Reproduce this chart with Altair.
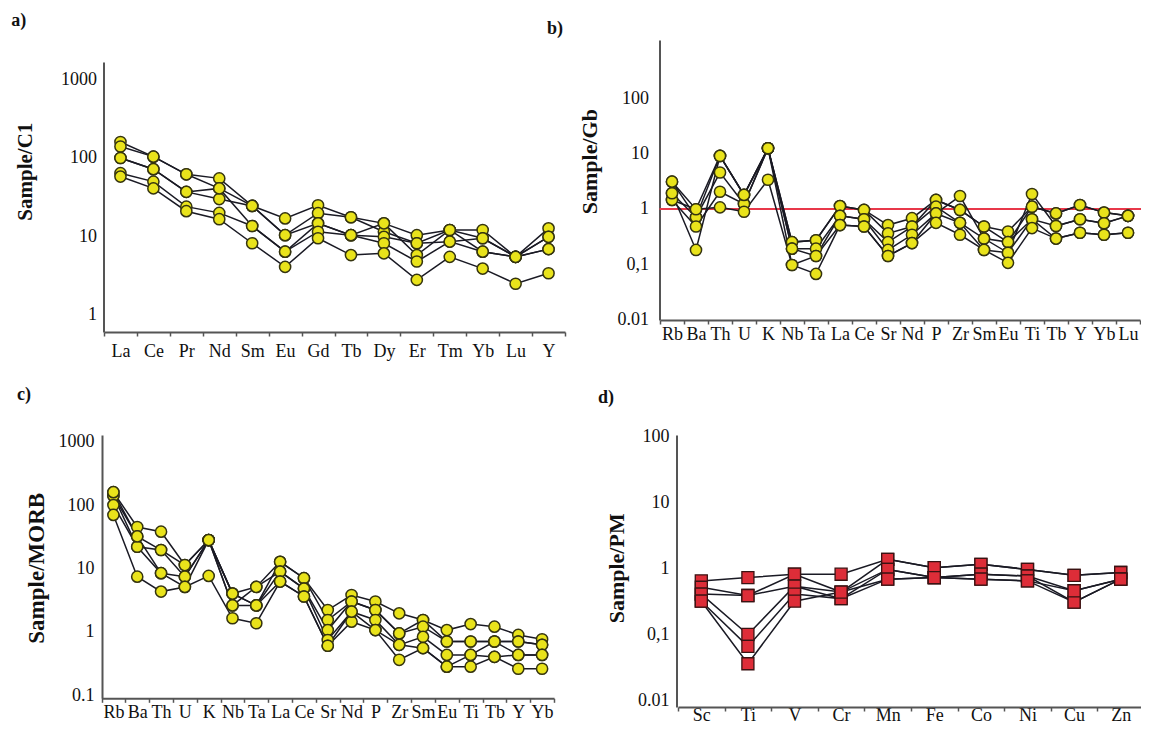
import altair as alt
import pandas as pd

# ---------------- data ----------------
ree = ["La", "Ce", "Pr", "Nd", "Sm", "Eu", "Gd", "Tb", "Dy", "Er", "Tm", "Yb", "Lu", "Y"]
a_s1 = [160, 104, 62, 55, 24.5, 17, 25, 17.6, 14.7, 10.4, 12.1, 12.1, 5.5, 12.7]
a_s2 = [140, 104, 62, 41, 24.5, 10.4, 19.8, 17.6, 11.5, 8.2, 12.1, 9.5, 5.5, 9.9]
a_s3 = [100, 72, 37, 30, 24.5, 10.4, 14.7, 10.4, 9.9, 8.2, 8.6, 9.5, 5.5, 9.9]
a_s4 = [100, 72, 37, 41, 13.6, 6.4, 14.7, 10.4, 14.7, 5.8, 12.1, 6.4, 5.5, 6.9]
a_s5 = [64, 50, 24, 20, 13.6, 6.4, 11.5, 10.4, 8.2, 4.8, 8.6, 6.4, 5.5, 6.9]
a_s6 = [58, 41, 21, 16.6, 8.2, 4.1, 9.5, 5.8, 6.1, 2.8, 5.5, 3.9, 2.5, 3.4]

gb_el = ["Rb", "Ba", "Th", "U", "K", "Nb", "Ta", "La", "Ce", "Sr", "Nd", "P", "Zr", "Sm", "Eu", "Ti", "Tb", "Y", "Yb", "Lu"]
b_s1 = [3.14, 0.99, 9.2, 1.8, 12.7, 0.25, 0.27, 1.13, 0.96, 0.51, 0.68, 1.46, 0.96, 0.48, 0.39, 1.1, 0.83, 1.18, 0.86, 0.75]
b_s2 = [3.14, 0.71, 9.2, 1.8, 12.7, 0.25, 0.27, 1.13, 0.96, 0.36, 0.48, 1.46, 0.96, 0.48, 0.25, 1.1, 0.83, 1.18, 0.86, 0.75]
b_s3 = [1.93, 0.71, 4.6, 1.23, 12.7, 0.19, 0.19, 0.75, 0.65, 0.25, 0.48, 1.1, 0.56, 0.29, 0.25, 0.65, 0.49, 0.65, 0.55, 0.75]
b_s4 = [1.46, 0.48, 2.06, 1.23, 12.7, 0.19, 0.14, 0.75, 0.65, 0.18, 0.34, 0.83, 1.72, 0.29, 0.16, 1.87, 0.49, 0.65, 0.55, 0.75]
b_s5 = [1.46, 0.99, 1.07, 0.89, 3.4, 0.096, 0.14, 0.51, 0.48, 0.14, 0.24, 0.83, 0.56, 0.18, 0.16, 0.65, 0.29, 0.37, 0.34, 0.37]
b_s6 = [1.93, 0.18, 9.2, 1.8, 12.7, 0.096, 0.066, 0.51, 0.48, 0.14, 0.24, 0.56, 0.34, 0.18, 0.105, 0.45, 0.29, 0.37, 0.34, 0.37]

morb_el = ["Rb", "Ba", "Th", "U", "K", "Nb", "Ta", "La", "Ce", "Sr", "Nd", "P", "Zr", "Sm", "Eu", "Ti", "Tb", "Y", "Yb"]
c_s1 = [160, 45, 38, 11.3, 28, 4.0, 5.1, 12.7, 7, 2.2, 3.8, 3.0, 1.95, 1.53, 1.06, 1.32, 1.2, 0.89, 0.76]
c_s2 = [140, 32, 19.5, 7.4, 28, 4.0, 2.6, 12.7, 7, 1.53, 3.0, 2.2, 0.94, 1.53, 0.7, 0.7, 0.7, 0.7, 0.62]
c_s3 = [140, 22, 19.5, 11.3, 28, 2.6, 2.6, 8.9, 4.8, 1.06, 3.0, 2.2, 0.94, 1.2, 0.7, 0.7, 0.7, 0.7, 0.62]
c_s4 = [100, 22, 8.4, 7.4, 28, 2.6, 5.1, 8.9, 4.8, 0.74, 2.07, 1.53, 0.62, 0.83, 0.43, 0.43, 0.4, 0.43, 0.43]
c_s5 = [70, 7.4, 4.3, 5.1, 7.6, 1.63, 1.36, 6.2, 3.6, 0.6, 1.44, 1.06, 0.36, 0.55, 0.28, 0.28, 0.4, 0.26, 0.26]
c_s6 = [160, 32, 8.4, 5.1, 28, 4.0, 2.6, 6.2, 3.6, 0.6, 2.07, 1.06, 0.62, 0.55, 0.28, 0.43, 0.7, 0.43, 0.43]

pm_el = ["Sc", "Ti", "V", "Cr", "Mn", "Fe", "Co", "Ni", "Cu", "Zn"]
d_s1 = [0.65, 0.73, 0.82, 0.82, 1.38, 1.03, 1.16, 0.97, 0.79, 0.87]
d_s2 = [0.52, 0.39, 0.82, 0.44, 1.38, 1.03, 1.16, 0.97, 0.79, 0.87]
d_s3 = [0.41, 0.39, 0.54, 0.44, 0.97, 0.73, 0.82, 0.77, 0.46, 0.69]
d_s4 = [0.41, 0.10, 0.54, 0.35, 0.97, 0.73, 0.82, 0.77, 0.31, 0.69]
d_s5 = [0.32, 0.066, 0.41, 0.35, 0.69, 0.73, 0.69, 0.65, 0.31, 0.69]
d_s6 = [0.32, 0.036, 0.32, 0.44, 0.69, 0.73, 0.69, 0.65, 0.46, 0.69]

gb_reference = [1.0]

FONT = "Liberation Serif"
W, H = 1133, 721


def long_df(cats, series):
    rows = []
    for name, vals in series.items():
        for i, (c, v) in enumerate(zip(cats, vals)):
            rows.append({"element": c, "sample": name, "value": v, "idx": i})
    return pd.DataFrame(rows)


def panel(df, cats, xr, ydom, yr, yoff, xoff, ylabpad, xlabpad, yvals,
          comma=False, square=False, ref=None):
    xs = alt.Scale(type="band", domain=cats, range=xr, paddingInner=0, paddingOuter=0)
    ys = alt.Scale(type="log", domain=ydom, range=yr, nice=False)
    xaxis = alt.Axis(orient="bottom", offset=xoff, title=None, tickBand="extent",
                     tickSize=4, tickWidth=1.5, tickColor="#555", labelPadding=xlabpad,
                     labelAngle=0, labelFont=FONT, labelFontSize=18, labelColor="#111",
                     labelOverlap=False, domainColor="#555", domainWidth=2, grid=False)
    yaxis = alt.Axis(orient="left", offset=yoff, title=None, values=yvals, format="~g",
                     labelExpr=("datum.value == 0.1 ? '0,1' : datum.label") if comma else "datum.label",
                     ticks=False, tickSize=0, labelPadding=ylabpad, labelFont=FONT,
                     labelFontSize=18, labelColor="#111", labelOverlap=False, labelFlush=False,
                     domainColor="#555", domainWidth=2, grid=False)
    enc = dict(x=alt.X("element:N", scale=xs, axis=xaxis),
               y=alt.Y("value:Q", scale=ys, axis=yaxis))
    layers = []
    if ref is not None:
        rule = alt.Chart(pd.DataFrame({"value": ref})).mark_rule(
            color="#e8384a", strokeWidth=2).encode(
            y=alt.Y("value:Q", scale=ys, axis=yaxis),
            x=alt.value(ref_x[0]), x2=alt.value(ref_x[1]))
        layers.append(rule)
    line = alt.Chart(df).mark_line(color="#1a1a24", strokeWidth=1.5).encode(
        detail="sample:N", order="idx:Q", **enc)
    layers.append(line)
    if square:
        pts = alt.Chart(df).mark_square(size=145, fill="#dd2d38", stroke="#3a1212",
                                        strokeWidth=1.3, opacity=1).encode(**enc)
    else:
        pts = alt.Chart(df).mark_circle(size=125, fill="#e9e31b", stroke="#35340f",
                                        strokeWidth=1.5, opacity=1).encode(**enc)
    layers.append(pts)
    return alt.layer(*layers)


ref_x = (651.5, 1141)

df_a = long_df(ree, {"s1": a_s1, "s2": a_s2, "s3": a_s3, "s4": a_s4, "s5": a_s5, "s6": a_s6})
df_b = long_df(gb_el, {"s1": b_s1, "s2": b_s2, "s3": b_s3, "s4": b_s4, "s5": b_s5, "s6": b_s6})
df_c = long_df(morb_el, {"s1": c_s1, "s2": c_s2, "s3": c_s3, "s4": c_s4, "s5": c_s5, "s6": c_s6})
df_d = long_df(pm_el, {"s1": d_s1, "s2": d_s2, "s3": d_s3, "s4": d_s4, "s5": d_s5, "s6": d_s6})

pa = panel(df_a, ree, [96, 557], [0.607, 1671], [324, 54], -95.5, 324 - H, 7, 6,
           [1, 10, 100, 1000])
pb = panel(df_b, gb_el, [652, 1132], [0.0096, 1179], [312, 32], -651.5, 312 - H, 11, 1,
           [0.01, 0.1, 1, 10, 100], comma=True, ref=gb_reference)
pc = panel(df_c, morb_el, [93.5, 546], [0.0887, 1280], [690.3, 427], -94, 690.3 - H, 8, 1,
           [0.1, 1, 10, 100, 1000])
pd_ = panel(df_d, pm_el, [670, 1136], [0.00795, 106], [699, 427], -668.5, 699 - H, 7.5, -5,
            [0.01, 0.1, 1, 10, 100], comma=True, square=True)


def txt(s, x, y, size, angle=0, bold=True):
    return alt.Chart(pd.DataFrame({"t": [s]})).mark_text(
        font=FONT, fontSize=size, fontWeight="bold" if bold else "normal",
        align="center", baseline="middle", angle=angle, color="#111").encode(
        text="t:N", x=alt.value(x), y=alt.value(y))


texts = [
    txt("a)", 10.7, 13, 18),
    txt("b)", 547, 20.5, 18),
    txt("c)", 16, 386.5, 18),
    txt("d)", 598, 390, 18),
    txt("Sample/C1", 17.9, 163.7, 21, 270),
    txt("Sample/Gb", 582, 153.7, 22, 270),
    txt("Sample/MORB", 28.6, 560.3, 23, 270),
    txt("Sample/PM", 609, 560.3, 22, 270),
]

chart = alt.layer(pa, pb, pc, pd_, *texts).resolve_scale(
    x="independent", y="independent").resolve_axis(
    x="independent", y="independent").properties(
    width=W, height=H, padding=0, autosize=alt.AutoSizeParams(type="none"),
    background="white").configure_view(stroke=None)

chart.save("out.html", embed_options={"renderer": "svg", "actions": False})
